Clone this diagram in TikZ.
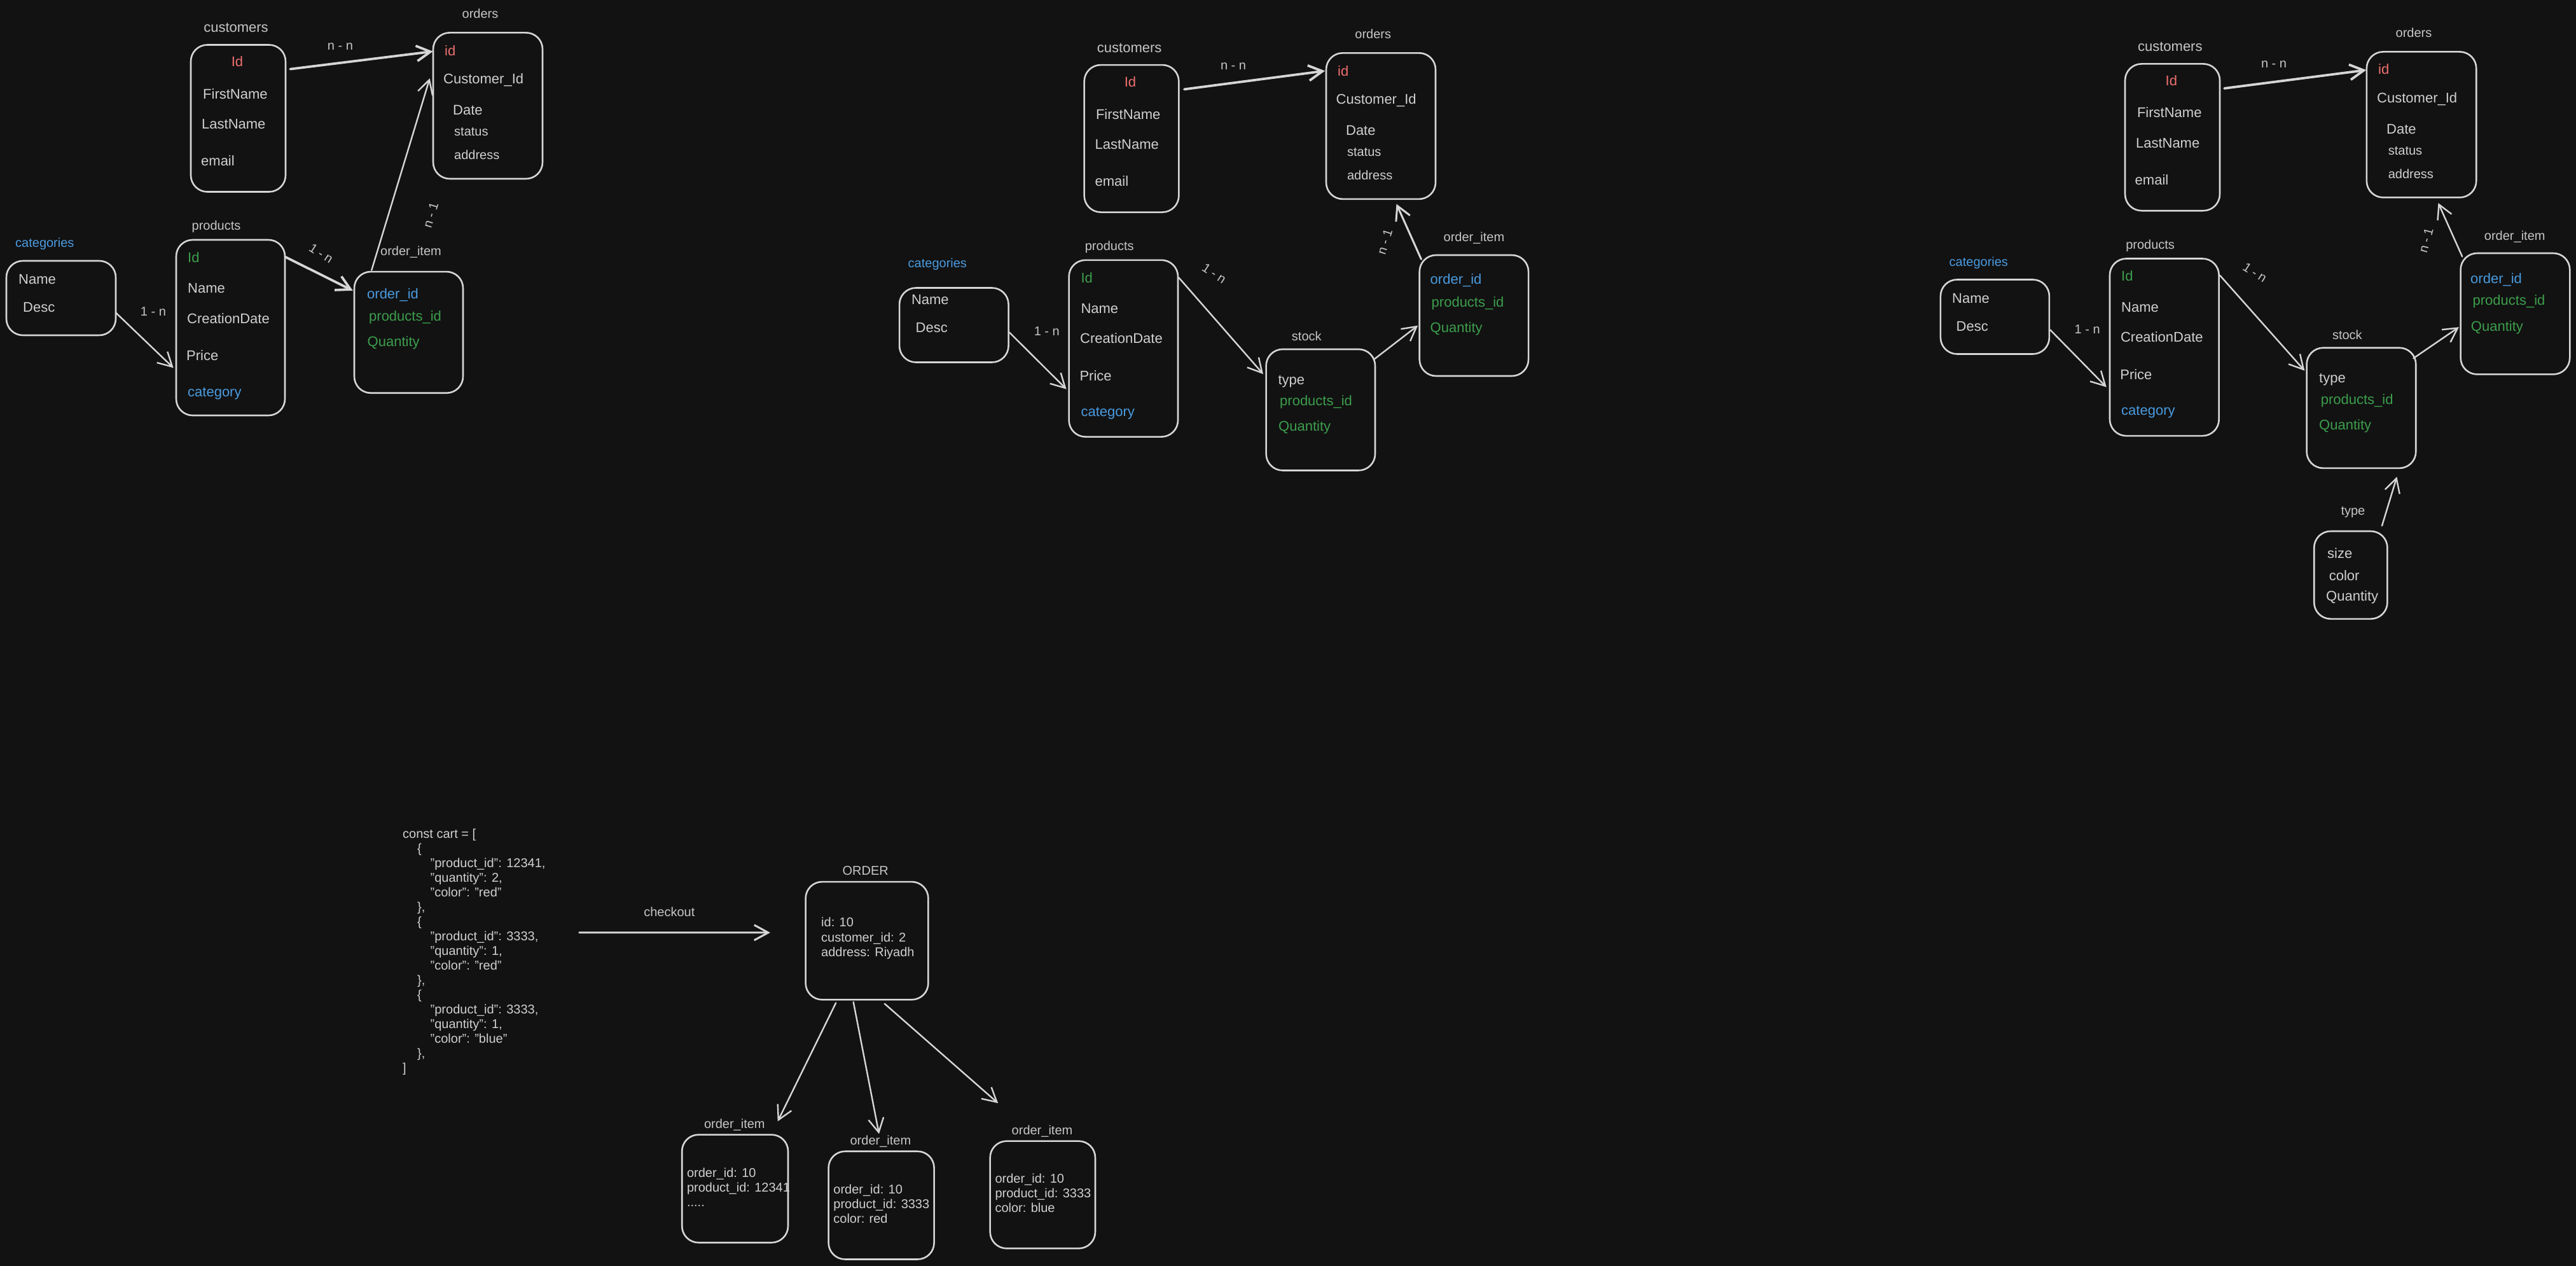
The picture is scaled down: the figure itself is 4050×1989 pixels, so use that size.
\documentclass[tikz,border=0pt]{standalone}
\usepackage{fontspec}
\setmainfont{Liberation Sans}
\usetikzlibrary{arrows.meta,calc}
\definecolor{bgc}{HTML}{121212}
\definecolor{strokec}{HTML}{D6D6D6}
\definecolor{txtc}{HTML}{D0D0D0}
\definecolor{lblc}{HTML}{C6C6C6}
\definecolor{redc}{HTML}{F07070}
\definecolor{bluec}{HTML}{4A9BE0}
\definecolor{greenc}{HTML}{3C9E4C}
\tikzset{
  box/.style={draw=strokec, line width=2.6pt, rounded corners=26pt, inner sep=0pt},
  fld/.style={anchor=west, inner sep=0pt, text=txtc, font=\fontsize{22}{26}\selectfont, text height=15.8pt, text depth=0pt},
  fsm/.style={fld, font=\fontsize{20}{24}\selectfont, text height=14.3pt},
  lbl/.style={anchor=center, inner sep=0pt, text=lblc, font=\fontsize{20}{24}\selectfont, text height=14.3pt, text depth=0pt},
  lblbig/.style={lbl, font=\fontsize{22}{26}\selectfont, text height=15.8pt},
  code/.style={anchor=west, inner sep=0pt, text=txtc, font=\fontsize{20}{24}\selectfont, text height=14.3pt, text depth=0pt},
  arr/.style={draw=strokec, line width=2.4pt, line cap=round, -{Straight Barb[length=22pt,width=24pt]}},
  arrthick/.style={arr, line width=3.8pt},
}
\begin{document}
\begin{tikzpicture}[x=1pt,y=-1pt]
\useasboundingbox (0,0) rectangle (4050,1989);
\fill[bgc] (-20,-20) rectangle (4070,2009);

%%%%%%%%%%%%%%%% Group A (left)
\node[box, minimum width=149, minimum height=231] (custA) at (374.5,186) {};
\node[lblbig] (custAl) at (371,42.7) {customers};
\node[fld, anchor=center, text=redc] (custA1) at (373,96.6) {Id};
\node[fld] (custA2) at (319,147.6) {FirstName};
\node[fld] (custA3) at (317,194.9) {LastName};
\node[fld] (custA4) at (316,252.9) {email};

\node[box, minimum width=172, minimum height=229.6] (ordA) at (767,166.2) {};
\node[lbl] (ordAl) at (755,21.6) {orders};
\node[fld, text=redc] (ordA1) at (699,80) {id};
\node[fld] (ordA2) at (697,123.5) {Customer\_Id};
\node[fld] (ordA3) at (712,172.5) {Date};
\node[fsm] (ordA4) at (714,206) {status};
\node[fsm] (ordA5) at (714,243.4) {address};

\node[box, minimum width=172, minimum height=117] (catA) at (96,468.5) {};
\node[lbl, anchor=west, text=bluec] (catAl) at (24,381) {categories};
\node[fld] (catA1) at (29,438.6) {Name};
\node[fld] (catA2) at (36,483) {Desc};

\node[box, minimum width=171, minimum height=276] (prodA) at (362.5,515) {};
\node[lbl] (prodAl) at (340,354.5) {products};
\node[fld, text=greenc] (prodA1) at (295,404.5) {Id};
\node[fld] (prodA2) at (295,452.7) {Name};
\node[fld] (prodA3) at (294,500.6) {CreationDate};
\node[fld] (prodA4) at (293,558.5) {Price};
\node[fld, text=bluec] (prodA5) at (295,615.6) {category};

\node[box, minimum width=171, minimum height=190.7] (itemA) at (642.5,522.4) {};
\node[lbl] (itemAl) at (646,394.7) {order\_item};
\node[fld, text=bluec] (itemA1) at (577,461.4) {order\_id};
\node[fld, text=greenc] (itemA2) at (580,496.7) {products\_id};
\node[fld, text=greenc] (itemA3) at (577.5,537) {Quantity};

\draw[arrthick] ($(custA.north east)+(6,39.4)$) -- ($(ordA.north west)+(1,30.7)$);
\node[lbl] (nnA) at (535,71.3) {n - n};
\draw[arr] ($(catA.north east)+(-1,83)$) -- ($(prodA.north west)+(-3,202.6)$);
\node[lbl] (onA) at (241,489) {1 - n};
\draw[arrthick] ($(prodA.north east)+(-1,28)$) -- ($(itemA.north west)+(-1,31)$);
\node[lbl, rotate=-33] (onA2) at (505,398) {1 - n};
\draw[arr] ($(itemA.north west)+(28.5,-1)$) -- ($(ordA.north west)+(-4,73)$);
\node[lbl, rotate=73] (noA) at (677,338) {n - 1};

%%%%%%%%%%%%%%%% Group B (middle)
\node[box, minimum width=148.7, minimum height=231.5] (custB) at (1779,217.8) {};
\node[lblbig] (custBl) at (1775.7,74.5) {customers};
\node[fld, anchor=center, text=redc] (custB1) at (1777,128.7) {Id};
\node[fld] (custB2) at (1722.8,179.7) {FirstName};
\node[fld] (custB3) at (1721.4,226.5) {LastName};
\node[fld] (custB4) at (1721.4,284.8) {email};

\node[box, minimum width=172, minimum height=229.6] (ordB) at (2171,198.1) {};
\node[lbl] (ordBl) at (2158.7,53) {orders};
\node[fld, text=redc] (ordB1) at (2103,111.7) {id};
\node[fld] (ordB2) at (2100.5,155.4) {Customer\_Id};
\node[fld] (ordB3) at (2115.9,204.5) {Date};
\node[fsm] (ordB4) at (2117.9,238) {status};
\node[fsm] (ordB5) at (2117.9,275.7) {address};

\node[box, minimum width=171.5, minimum height=117] (catB) at (1499.8,511) {};
\node[lbl, anchor=west, text=bluec] (catBl) at (1427.5,413.4) {categories};
\node[fld] (catB1) at (1432.8,470.8) {Name};
\node[fld] (catB2) at (1439.5,514.4) {Desc};

\node[box, minimum width=171.4, minimum height=277.8] (prodB) at (1766.3,547.7) {};
\node[lbl] (prodBl) at (1744.2,386.3) {products};
\node[fld, text=greenc] (prodB1) at (1699.3,436.4) {Id};
\node[fld] (prodB2) at (1699.3,484.6) {Name};
\node[fld] (prodB3) at (1698,531.4) {CreationDate};
\node[fld] (prodB4) at (1697.3,590.2) {Price};
\node[fld, text=bluec] (prodB5) at (1699.3,646.7) {category};

\node[box, minimum width=171.4, minimum height=190.5] (stockB) at (2076.3,644.2) {};
\node[lbl] (stockBl) at (2054.3,528.2) {stock};
\node[fld] (stockB1) at (2009.4,596.2) {type};
\node[fld, text=greenc] (stockB2) at (2012,629.7) {products\_id};
\node[fld, text=greenc] (stockB3) at (2010,669.6) {Quantity};

\node[box, minimum width=171.3, minimum height=190] (itemB) at (2317.4,496) {};
\node[lbl] (itemBl) at (2317.4,372) {order\_item};
\node[fld, text=bluec] (itemB1) at (2248.5,439) {order\_id};
\node[fld, text=greenc] (itemB2) at (2250.5,474.5) {products\_id};
\node[fld, text=greenc] (itemB3) at (2248.5,514.4) {Quantity};

\draw[arrthick] ($(custB.north east)+(7.3,39.6)$) -- ($(ordB.north west)+(-0.6,29.4)$);
\node[lbl] (nnB) at (1939,102.5) {n - n};
\draw[arr] ($(catB.north east)+(0,71.2)$) -- ($(prodB.north west)+(-2.7,204.2)$);
\node[lbl] (onB) at (1645.8,520.4) {1 - n};
\draw[arr] ($(prodB.north east)+(0,28.9)$) -- ($(stockB.north west)+(-3.3,40.4)$);
\node[lbl, rotate=-33] (onB2) at (1909,429.5) {1 - n};
\draw[arr] ($(stockB.north east)+(-3.3,17.4)$) -- ($(itemB.north west)+(-1.3,112)$);
\draw[arr, line width=3pt] ($(itemB.north west)+(4,7.8)$) -- ($(ordB.south east)+(-62.8,6.4)$);
\node[lbl, rotate=73] (noB) at (2176.8,380) {n - 1};

%%%%%%%%%%%%%%%% Group C (right)
\node[box, minimum width=149, minimum height=230.8] (custC) at (3415.5,215.8) {};
\node[lblbig] (custCl) at (3411.8,72.9) {customers};
\node[fld, anchor=center, text=redc] (custC1) at (3413.8,126.1) {Id};
\node[fld] (custC2) at (3359.8,177) {FirstName};
\node[fld] (custC3) at (3357.8,224.7) {LastName};
\node[fld] (custC4) at (3356.5,282.9) {email};

\node[box, minimum width=172.4, minimum height=229] (ordC) at (3807,195.9) {};
\node[lbl] (ordCl) at (3795,51.4) {orders};
\node[fld, text=redc] (ordC1) at (3739,109) {id};
\node[fld] (ordC2) at (3737,153.7) {Customer\_Id};
\node[fld] (ordC3) at (3752,202.7) {Date};
\node[fsm] (ordC4) at (3754.6,236.3) {status};
\node[fsm] (ordC5) at (3754.6,273) {address};

\node[box, minimum width=171, minimum height=117] (catC) at (3136.4,498) {};
\node[lbl, anchor=west, text=bluec] (catCl) at (3064.5,411.4) {categories};
\node[fld] (catC1) at (3069,468.4) {Name};
\node[fld] (catC2) at (3075.5,512.4) {Desc};

\node[box, minimum width=171.7, minimum height=278.6] (prodC) at (3402.8,545.8) {};
\node[lbl] (prodCl) at (3380.6,383.9) {products};
\node[fld, text=greenc] (prodC1) at (3335,434) {Id};
\node[fld] (prodC2) at (3335,482.4) {Name};
\node[fld] (prodC3) at (3333.8,529.6) {CreationDate};
\node[fld] (prodC4) at (3333.1,588.4) {Price};
\node[fld, text=bluec] (prodC5) at (3335,644.7) {category};

\node[box, minimum width=171.7, minimum height=189.2] (stockC) at (3712.4,641.3) {};
\node[lbl] (stockCl) at (3690.3,525.9) {stock};
\node[fld] (stockC1) at (3646,593.3) {type};
\node[fld, text=greenc] (stockC2) at (3648.6,627.6) {products\_id};
\node[fld, text=greenc] (stockC3) at (3646,667.3) {Quantity};

\node[box, minimum width=171.7, minimum height=190.4] (itemC) at (3954.4,493.2) {};
\node[lbl] (itemCl) at (3953.7,370.4) {order\_item};
\node[fld, text=bluec] (itemC1) at (3884,437.1) {order\_id};
\node[fld, text=greenc] (itemC2) at (3887.4,471.4) {products\_id};
\node[fld, text=greenc] (itemC3) at (3884.7,512.4) {Quantity};

\node[box, minimum width=115.2, minimum height=137.8] (typeC) at (3695.8,903.9) {};
\node[lbl] (typeCl) at (3699.4,802.7) {type};
\node[fld] (typeC1) at (3659,870) {size};
\node[fld] (typeC2) at (3661.6,904.3) {color};
\node[fld] (typeC3) at (3657,936.7) {Quantity};

\draw[arrthick] ($(custC.north east)+(5.8,39.8)$) -- ($(ordC.north west)+(0.7,30)$);
\node[lbl] (nnC) at (3575,99.2) {n - n};
\draw[arr] ($(catC.north east)+(0,80.2)$) -- ($(prodC.north west)+(-3.9,203.3)$);
\node[lbl] (onC) at (3281.7,517.3) {1 - n};
\draw[arr] ($(prodC.north east)+(0,27.5)$) -- ($(stockC.north west)+(-1.9,37.3)$);
\node[lbl, rotate=-33] (onC2) at (3545.2,428) {1 - n};
\draw[arr] ($(stockC.north east)+(-5.2,17.8)$) -- ($(itemC.north west)+(-1.3,117.5)$);
\draw[arr] ($(itemC.north west)+(3.9,6.7)$) -- ($(ordC.south east)+(-61.1,7.4)$);
\node[lbl, rotate=75] (noC) at (3813.8,377.8) {n - 1};
\draw[arr] ($(typeC.north east)+(-9.8,-7.2)$) -- ($(stockC.south east)+(-31.2,12.3)$);

%%%%%%%%%%%%%%%% Group D (bottom)
\node[code] (c1) at (633,1310.4) {const cart = [};
\node[code] (c2) at (656,1333.4) {\{};
\node[code] (c3) at (676.5,1356.4) {"product\_id": 12341,};
\node[code] (c4) at (676.5,1379.4) {"quantity": 2,};
\node[code] (c5) at (676.5,1402.4) {"color": "red"};
\node[code] (c6) at (656,1425.4) {\},};
\node[code] (c7) at (656,1448.4) {\{};
\node[code] (c8) at (676.5,1471.4) {"product\_id": 3333,};
\node[code] (c9) at (676.5,1494.4) {"quantity": 1,};
\node[code] (c10) at (676.5,1517.4) {"color": "red"};
\node[code] (c11) at (656,1540.4) {\},};
\node[code] (c12) at (656,1563.4) {\{};
\node[code] (c13) at (676.5,1586.4) {"product\_id": 3333,};
\node[code] (c14) at (676.5,1609.4) {"quantity": 1,};
\node[code] (c15) at (676.5,1632.4) {"color": "blue"};
\node[code] (c16) at (656,1655.4) {\},};
\node[code] (c17) at (633,1678.4) {]};

\node[box, minimum width=192.8, minimum height=185.3] (ordD) at (1363,1478.7) {};
\node[lbl] (ordDl) at (1360.7,1368.6) {ORDER};
\node[code] (ordD1) at (1291,1449.8) {id: 10};
\node[code] (ordD2) at (1291,1473.1) {customer\_id: 2};
\node[code] (ordD3) at (1291,1496.5) {address: Riyadh};

\coordinate (cartend) at (910.7,1465.8);
\draw[arr, line width=3pt] (cartend) -- ($(ordD.north west)+(-54.4,81.2)$);
\node[lbl] (chk) at (1052.3,1433.2) {checkout};

\node[box, minimum width=166.8, minimum height=169.6] (it1) at (1155.6,1868.4) {};
\node[lbl] (it1l) at (1154.8,1766.6) {order\_item};
\node[code] (it11) at (1079.8,1843.2) {order\_id: 10};
\node[code] (it12) at (1079.8,1866.1) {product\_id: 12341};
\node[code] (it13) at (1079.8,1889.8) {.....};

\node[box, minimum width=166, minimum height=169.7] (it2) at (1385.6,1894.6) {};
\node[lbl] (it2l) at (1384.4,1792.7) {order\_item};
\node[code] (it21) at (1310.2,1869.3) {order\_id: 10};
\node[code] (it22) at (1310.2,1892.3) {product\_id: 3333};
\node[code] (it23) at (1310.2,1915.2) {color: red};

\node[box, minimum width=165.3, minimum height=168.7] (it3) at (1639.3,1878) {};
\node[lbl] (it3l) at (1638.5,1776.7) {order\_item};
\node[code] (it31) at (1564.3,1852.4) {order\_id: 10};
\node[code] (it32) at (1564.3,1875.3) {product\_id: 3333};
\node[code] (it33) at (1564.3,1898.2) {color: blue};

\draw[arr] ($(ordD.south west)+(48.9,3.7)$) -- ($(it1.north east)+(-17.6,-19.7)$);
\draw[arr] ($(ordD.south west)+(76.4,2.3)$) -- ($(it2.north)+(-3.6,-26.1)$);
\draw[arr] ($(ordD.south west)+(125.4,5)$) -- ($(it3.north west)+(13.8,-58.3)$);
\end{tikzpicture}
\end{document}
